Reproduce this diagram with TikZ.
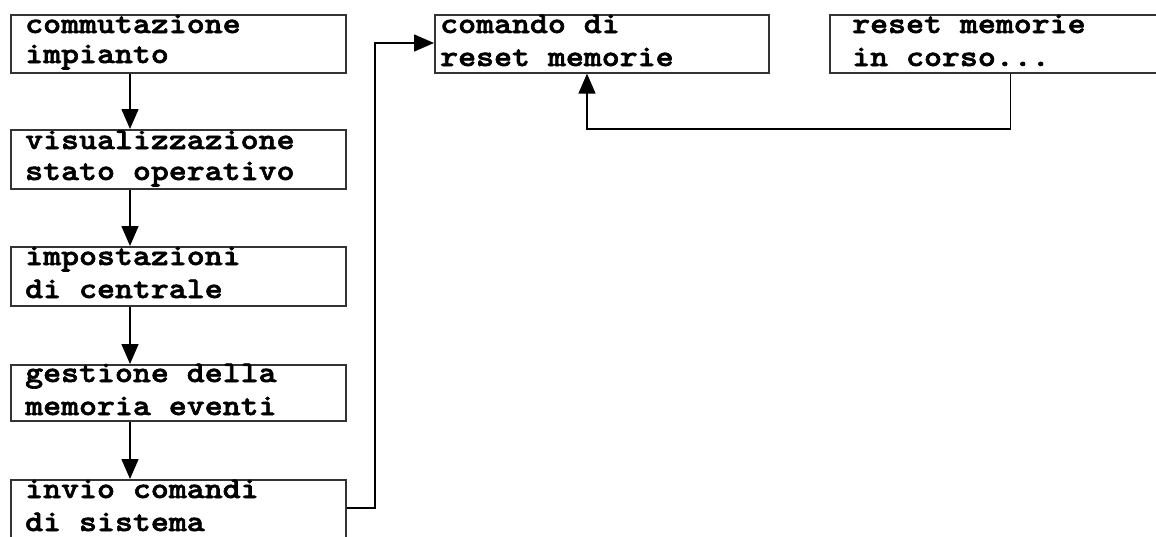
\documentclass[tikz,border=0pt]{standalone}
\usepackage{fontspec}
\newfontfamily\cour{lmmonolt10-bold.otf}[FakeStretch=1.14,FakeBold=2]
\usetikzlibrary{arrows.meta}
\begin{document}
\begin{tikzpicture}[x=1pt,y=-1pt,
  box/.style={draw=black!80,line width=1.6pt,rectangle,inner sep=0pt,anchor=north west},
  txt/.style={inner sep=0pt,anchor=base west,font=\cour\fontsize{30}{30}\selectfont},
  conn/.style={draw=black,line width=1.5pt,-{Triangle[length=20pt,width=17pt]}},
  plain/.style={draw=black,line width=1.5pt}]
\useasboundingbox (0,0) rectangle (1156,536);
\fill[white] (0,0) rectangle (1156,536);
% boxes
\node[box,minimum width=335pt,minimum height=58pt] (b1) at (10,14) {};
\node[box,minimum width=335pt,minimum height=59pt] (b2) at (10,129) {};
\node[box,minimum width=335pt,minimum height=59pt] (b3) at (10,246) {};
\node[box,minimum width=335pt,minimum height=56pt] (b4) at (10,364) {};
\node[box,minimum width=335pt,minimum height=70pt] (b5) at (10,479) {};
\node[box,minimum width=334pt,minimum height=58pt] (c) at (434,14) {};
\node[box,minimum width=340pt,minimum height=58pt] (r) at (829,14) {};
% texts
\node[txt] (t1a) at (25,33) {commutazione};
\node[txt] (t1b) at (25,63) {impianto};
\node[txt] (t2a) at (25,149) {visualizzazione};
\node[txt] (t2b) at (25,180) {stato operativo};
\node[txt] (t3a) at (25,265) {impostazioni};
\node[txt] (t3b) at (25,298) {di centrale};
\node[txt] (t4a) at (25,382) {gestione della};
\node[txt] (t4b) at (25,415) {memoria eventi};
\node[txt] (t5a) at (25,498) {invio comandi};
\node[txt] (t5b) at (25,531) {di sistema};
\node[txt] (tca) at (440,33) {comando di};
\node[txt] (tcb) at (440,66) {reset memorie};
\node[txt] (tra) at (852,33) {reset memorie};
\node[txt] (trb) at (852,66) {in corso...};
% connectors
\coordinate (p1) at (375,508);
\coordinate (p2) at (375,43);
\coordinate (q1) at (1010.5,129);
\coordinate (q2) at (587,129);
\draw[conn] (b1.south west -| 130,0) -- (b2.north west -| 130,0);
\draw[conn] (b2.south west -| 130,0) -- (b3.north west -| 130,0);
\draw[conn] (b3.south west -| 130,0) -- (b4.north west -| 130,0);
\draw[conn] (b4.south west -| 130,0) -- (b5.north west -| 130,0);
\draw[conn] (b5.east |- p1) -- (p1) -- (p2) -- (c.west |- p2);
\draw[conn] (r.south west -| q1) -- (q1) -- (q2) -- (c.south west -| q2);
\end{tikzpicture}
\end{document}
